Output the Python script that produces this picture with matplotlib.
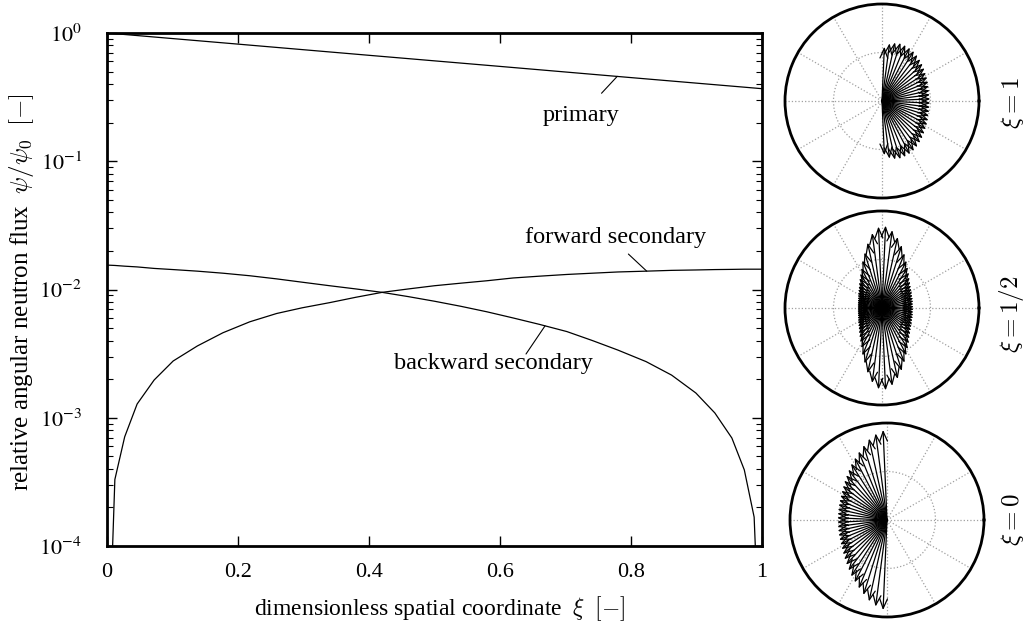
import numpy as np
import matplotlib
matplotlib.use("Agg")
import matplotlib.pyplot as plt
from matplotlib.ticker import FuncFormatter, NullFormatter, FixedLocator

plt.rcParams['font.family'] = ['Liberation Serif', 'DejaVu Serif']
plt.rcParams['mathtext.fontset'] = 'stix'

# spatial grid (dimensionless coordinate xi)
xi = [0.0, 0.012, 0.027, 0.046, 0.072, 0.101, 0.138, 0.177, 0.218, 0.259,
      0.298, 0.34, 0.38, 0.42, 0.46, 0.5, 0.54, 0.58, 0.62, 0.66,
      0.702, 0.741, 0.78, 0.823, 0.862, 0.899, 0.928, 0.954, 0.973, 0.988, 1.0]

forward = [5e-6, 3.3e-4, 7.1e-4, 1.28e-3, 1.97e-3, 2.77e-3, 3.63e-3, 4.6e-3, 5.6e-3, 6.5e-3,
           7.2e-3, 7.9e-3, 8.7e-3, 9.5e-3, 1.01e-2, 1.07e-2, 1.12e-2, 1.17e-2, 1.23e-2, 1.27e-2,
           1.31e-2, 1.34e-2, 1.37e-2, 1.39e-2, 1.41e-2, 1.42e-2, 1.43e-2, 1.435e-2, 1.44e-2, 1.44e-2, 1.44e-2]

backward = [1.55e-2, 1.54e-2, 1.52e-2, 1.50e-2, 1.46e-2, 1.43e-2, 1.39e-2, 1.34e-2, 1.28e-2, 1.21e-2,
            1.14e-2, 1.07e-2, 1.01e-2, 9.5e-3, 8.8e-3, 8.1e-3, 7.4e-3, 6.7e-3, 6.0e-3, 5.35e-3,
            4.7e-3, 4.0e-3, 3.37e-3, 2.74e-3, 2.15e-3, 1.56e-3, 1.09e-3, 6.95e-4, 3.92e-4, 1.68e-4, 5e-6]

primary_x = [0.0, 0.2, 0.4, 0.6, 0.8, 1.0]
primary = [1.0, 0.819, 0.670, 0.549, 0.449, 0.368]

# angular distributions (angle from the horizontal axis, degrees) and relative lengths
phi = [2.5, 7.5, 12.5, 17.5, 22.5, 27.5, 32.5, 37.5, 42.5,
       47.5, 52.5, 57.5, 62.5, 67.5, 72.5, 77.5, 82.5, 87.5]
r_xi1_fwd = [0.50, 0.50, 0.505, 0.51, 0.52, 0.53, 0.54, 0.555, 0.57,
             0.585, 0.60, 0.613, 0.622, 0.628, 0.63, 0.62, 0.60, 0.56]
r_xihalf_fwd = [0.33, 0.33, 0.335, 0.34, 0.345, 0.355, 0.365, 0.38, 0.40,
                0.425, 0.46, 0.50, 0.55, 0.61, 0.68, 0.75, 0.81, 0.85]
r_xihalf_bwd = [0.26, 0.262, 0.265, 0.27, 0.277, 0.286, 0.298, 0.313, 0.332,
                0.355, 0.385, 0.42, 0.465, 0.53, 0.60, 0.69, 0.78, 0.84]
r_xi0_bwd = [0.515, 0.517, 0.522, 0.528, 0.536, 0.546, 0.559, 0.577, 0.60,
             0.625, 0.655, 0.69, 0.725, 0.765, 0.81, 0.86, 0.90, 0.93]

W, H = 1028, 632
fig = plt.figure(figsize=(W / 100, H / 100), dpi=100)

def px(x0, y0, w, h):
    return [x0 / W, 1 - (y0 + h) / H, w / W, h / H]

ax = fig.add_axes(px(107, 33, 655, 513))
ax.set_yscale('log')
ax.plot(primary_x, primary, color='black', lw=0.9)
ax.plot(xi, forward, color='black', lw=0.9)
ax.plot(xi, backward, color='black', lw=0.9)
ax.set_xlim(0, 1)
ax.set_ylim(1e-4, 1)

ax.xaxis.set_major_locator(FixedLocator([0, 0.2, 0.4, 0.6, 0.8, 1.0]))
ax.xaxis.set_major_formatter(FuncFormatter(lambda v, p: '%g' % v))
ax.yaxis.set_major_formatter(FuncFormatter(lambda v, p: r'$10^{%d}$' % round(np.log10(v))))
ax.yaxis.set_minor_formatter(NullFormatter())
ax.tick_params(which='both', direction='in', top=True, right=True, labelsize=16)
ax.tick_params(which='major', length=7, width=1)
ax.tick_params(axis='x', which='major', pad=12)
ax.tick_params(axis='y', which='major', pad=18)
ax.tick_params(which='minor', length=4, width=0.8)
for s in ax.spines.values():
    s.set_linewidth(2)

fig.text(440 / W, 1 - 609 / H, r'dimensionless spatial coordinate $\;\xi\;\;[-]$',
         ha='center', va='center', fontsize=17, math_fontfamily='cm')
fig.text(22 / W, 1 - 292 / H, r'relative angular neutron flux $\;\psi/\psi_0\;\;[-]$',
         ha='center', va='center', rotation=90, fontsize=18, math_fontfamily='cm')

# curve labels with leader lines
def label(text, tx, ty, lx0, ly0, lx1, ly1):
    ax.text(tx, ty, text, ha='center', va='baseline', fontsize=17.5)
    ax.annotate('', xy=(lx1, ly1), xytext=(lx0, ly0),
                arrowprops=dict(arrowstyle='-', lw=0.8, color='black', shrinkA=0, shrinkB=0))

label('primary', 0.724, 0.206, 0.755, 0.339, 0.779, 0.459)
label('forward secondary', 0.777, 0.0232, 0.796, 0.0189, 0.824, 0.0139)
label('backward secondary', 0.590, 0.0024, 0.6397, 0.00314, 0.6687, 0.0052)

# polar insets
def polar_panel(rect, fwd=None, bwd=None):
    pa = fig.add_axes(rect, projection='polar')
    pa.set_ylim(0, 1)
    pa.set_rgrids([0.5], labels=[''])
    pa.set_thetagrids(np.arange(0, 360, 30), labels=[''] * 12)
    pa.grid(True, color='#a0a0a0', linestyle=':', lw=0.9)
    pa.spines['polar'].set_linewidth(2)
    pa.set_axisbelow(True)
    angles, radii = [], []
    if fwd is not None:
        angles += list(phi) + [-p for p in phi]
        radii += list(fwd) + list(fwd)
    if bwd is not None:
        angles += [180 - p for p in phi] + [180 + p for p in phi]
        radii += list(bwd) + list(bwd)
    for a, r in zip(np.radians(angles), radii):
        pa.annotate('', xy=(a, r), xytext=(a, 0),
                    arrowprops=dict(arrowstyle='->,head_length=0.7,head_width=0.28',
                                    lw=0.9, color='black', shrinkA=0, shrinkB=0))
    return pa

polar_panel(px(785, 4, 194, 194), fwd=r_xi1_fwd)
polar_panel(px(785, 211, 194, 194), fwd=r_xihalf_fwd, bwd=r_xihalf_bwd)
polar_panel(px(790, 423, 194, 194), bwd=r_xi0_bwd)

for txt, yc in [(r'$\xi = 1$', 103), (r'$\xi = 1/2$', 314), (r'$\xi = 0$', 520)]:
    fig.text(1012 / W, 1 - yc / H, txt, rotation=90, ha='center', va='center',
             fontsize=18, math_fontfamily='cm')

fig.savefig('out.png', dpi=100)
